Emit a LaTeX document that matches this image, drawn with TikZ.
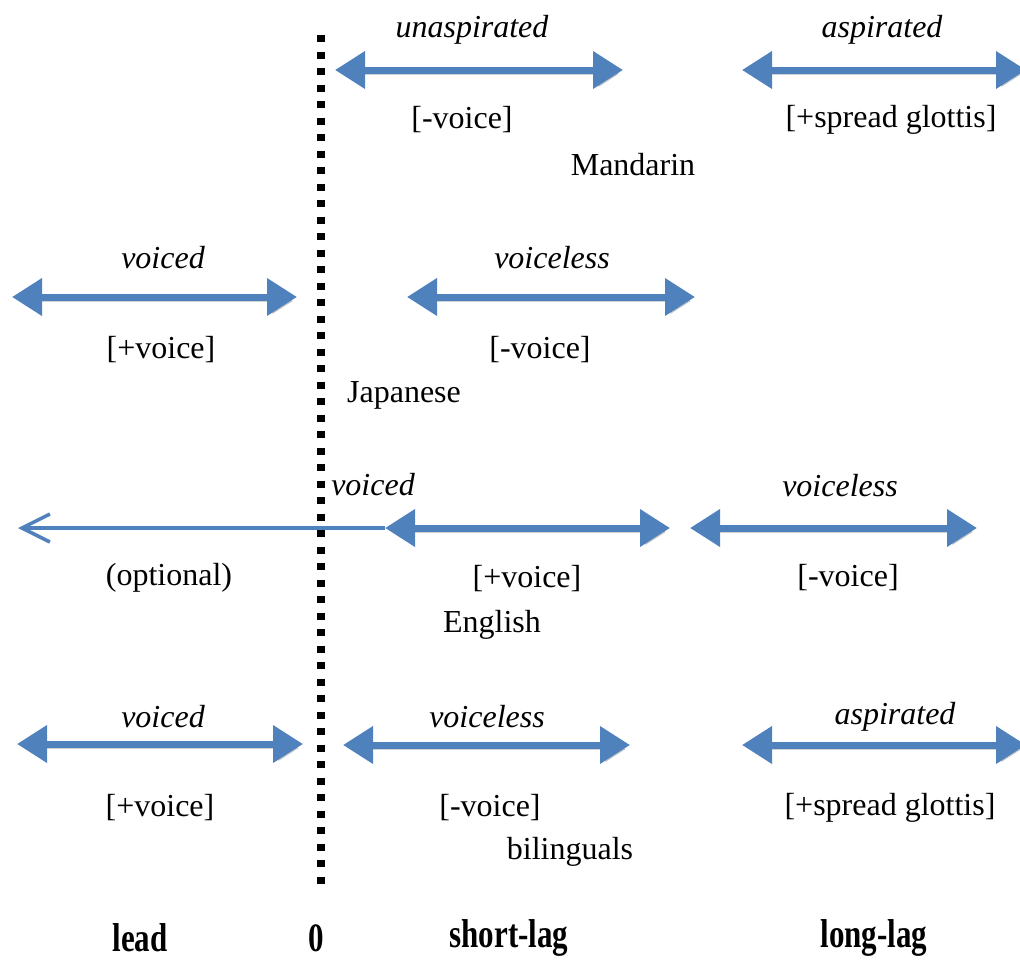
\documentclass[tikz,border=0pt]{standalone}
\usepackage{fontspec}
\setmainfont{Liberation Serif}
\usepackage{xcolor}
\definecolor{barblue}{HTML}{4F81BD}
\usepackage{tikz}
\usetikzlibrary{arrows.meta}

\begin{document}
\begin{tikzpicture}[x=1pt,y=-1pt,
  every node/.style={font=\fontsize{32}{36}\selectfont,inner sep=0pt},
  cat/.style={font=\fontsize{32}{36}\selectfont\itshape},
  axislbl/.style={font=\fontsize{31}{36}\selectfont\bfseries},
  votbar/.style={barblue,line width=7pt,{Triangle[length=30pt,width=36pt]}-{Triangle[length=30pt,width=36pt]},
    preaction={draw=black,opacity=0.18,transform canvas={shift={(2,4)}}}},
  optline/.style={barblue,line width=3.5pt,{Straight Barb[length=28pt,width=28pt]}-}]
\useasboundingbox (0,0) rectangle (1020,961);
\coordinate (ztop) at (321,35);
\coordinate (zbot) at (321,892);
\draw[line width=7.5pt,dash pattern=on 7pt off 9.5pt] (ztop) -- (zbot);
\coordinate (m1L) at (335,70);
\coordinate (m1R) at (623,70);
\coordinate (m2L) at (742,70);
\coordinate (m2R) at (1026,70);
\coordinate (j1L) at (12,297);
\coordinate (j1R) at (297,297);
\coordinate (j2L) at (407,297);
\coordinate (j2R) at (695,297);
\coordinate (optT) at (18,528);
\coordinate (e1L) at (385,528);
\coordinate (e1R) at (670,528);
\coordinate (e2L) at (690,528);
\coordinate (e2R) at (977,528);
\coordinate (b1L) at (17,744);
\coordinate (b1R) at (303,744);
\coordinate (b2L) at (343,745);
\coordinate (b2R) at (630,745);
\coordinate (b3L) at (742,745);
\coordinate (b3R) at (1026,745);
\node[cat] (unasp) at (472,30) {unaspirated};
\node[cat] (asp1) at (882,30) {aspirated};
\node (mminus) at (462,120) {[-voice]};
\node (mspread) at (891,120) {[+spread glottis]};
\node (mand) at (633,165) {Mandarin};
\node[cat] (jvoiced) at (163,258) {voiced};
\node[cat] (jvoiceless) at (552,258) {voiceless};
\node (jplus) at (161,350) {[+voice]};
\node (jminus) at (540,350) {[-voice]};
\node (jap) at (404,395) {Japanese};
\node[cat] (evoiced) at (373,485) {voiced};
\node[cat] (evoiceless) at (840,486) {voiceless};
\node (opt) at (169,578) {(optional)};
\node (eplus) at (527,579) {[+voice]};
\node (eminus) at (848,578) {[-voice]};
\node (eng) at (492,625) {English};
\node[cat] (bvoiced) at (163,717) {voiced};
\node[cat] (bvoiceless) at (487,717) {voiceless};
\node[cat] (basp) at (895,717) {aspirated};
\node (bplus) at (160,808) {[+voice]};
\node (bminus) at (490,808) {[-voice]};
\node (bspread) at (890,808) {[+spread glottis]};
\node (bil) at (570,852) {bilinguals};
\node[axislbl] (lead) at (140,938) {\scalebox{1}[1.3]{lead}};
\node[axislbl] (zero) at (316,938) {\scalebox{1}[1.3]{0}};
\node[axislbl] (short) at (509,938) {\scalebox{1}[1.3]{short-lag}};
\node[axislbl] (long) at (874,938) {\scalebox{1}[1.3]{long-lag}};
\draw[votbar] (m1L) -- (m1R);
\draw[votbar] (m2L) -- (m2R);
\draw[votbar] (j1L) -- (j1R);
\draw[votbar] (j2L) -- (j2R);
\draw[optline] (optT) -- (e1L);
\draw[votbar] (e1L) -- (e1R);
\draw[votbar] (e2L) -- (e2R);
\draw[votbar] (b1L) -- (b1R);
\draw[votbar] (b2L) -- (b2R);
\draw[votbar] (b3L) -- (b3R);
\end{tikzpicture}
\end{document}
